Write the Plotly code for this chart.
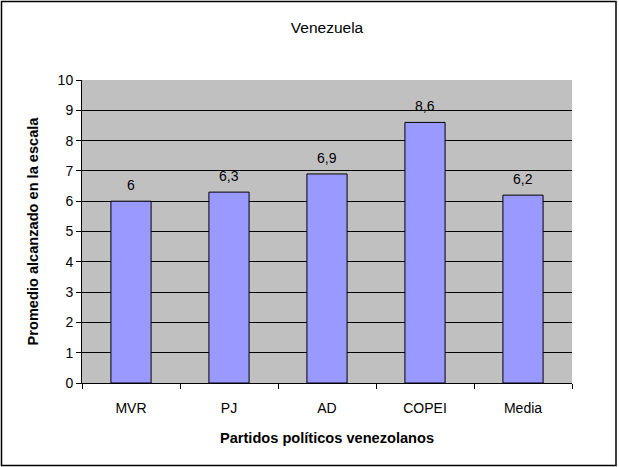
import plotly.graph_objects as go

categories = ["MVR", "PJ", "AD", "COPEI", "Media"]
values = [6, 6.3, 6.9, 8.6, 6.2]
y_ticks = list(range(0, 11))

W, H = 619, 467
L, R, T, B = 82, 47, 80, 84
pw, ph = W - L - R, H - T - B

labels = [str(v).replace(".", ",") for v in values]
FONT = "Liberation Sans, Arial"

fig = go.Figure()
fig.add_trace(go.Bar(
    x=categories, y=values,
    marker=dict(color="#9999FF", line=dict(color="black", width=1)),
    width=0.41,
    hoverinfo="skip",
))
for c, v, t in zip(categories, values, labels):
    fig.add_annotation(x=c, y=v, text=t, showarrow=False, yanchor="bottom",
                       yshift=6, font=dict(family=FONT, size=14, color="black"))

# outer chart border
fig.add_shape(type="rect", xref="paper", yref="paper",
              x0=(1.5 - L) / pw, x1=(616 - L) / pw,
              y0=(T + ph - 465.5) / ph, y1=(T + ph - 1.5) / ph,
              line=dict(color="black", width=1.5), fillcolor="rgba(0,0,0,0)", layer="below")

fig.update_layout(
    width=W, height=H,
    margin=dict(l=L, r=R, t=T, b=B),
    paper_bgcolor="white", plot_bgcolor="#C0C0C0",
    font=dict(family=FONT, size=14, color="black"),
    title=dict(text="Venezuela", x=0.5, xref="paper", xanchor="center", y=1 - 28 / H, yanchor="middle",
               font=dict(size=15.5)),
    showlegend=False,
    xaxis=dict(
        title=dict(text="<b>Partidos políticos venezolanos</b>", standoff=17, font=dict(size=14.6)),
        showline=True, linecolor="black", linewidth=1,
        ticks="outside", ticklen=5, tickcolor="black", tickson="boundaries",
        showgrid=False, fixedrange=True, ticklabelstandoff=12,
    ),
    yaxis=dict(
        title=dict(text="<b>Promedio alcanzado en la escala</b>", standoff=15, font=dict(size=14.6)),
        range=[0, 10], tickvals=y_ticks, ticktext=[str(t) for t in y_ticks],
        showline=True, linecolor="black", linewidth=1,
        ticks="outside", ticklen=5, tickcolor="black",
        showgrid=True, gridcolor="black", gridwidth=1,
        zeroline=False, fixedrange=True,
    ),
)

fig.write_html("out.html", config={"displayModeBar": False},
               post_script="document.body.style.margin='0';")
